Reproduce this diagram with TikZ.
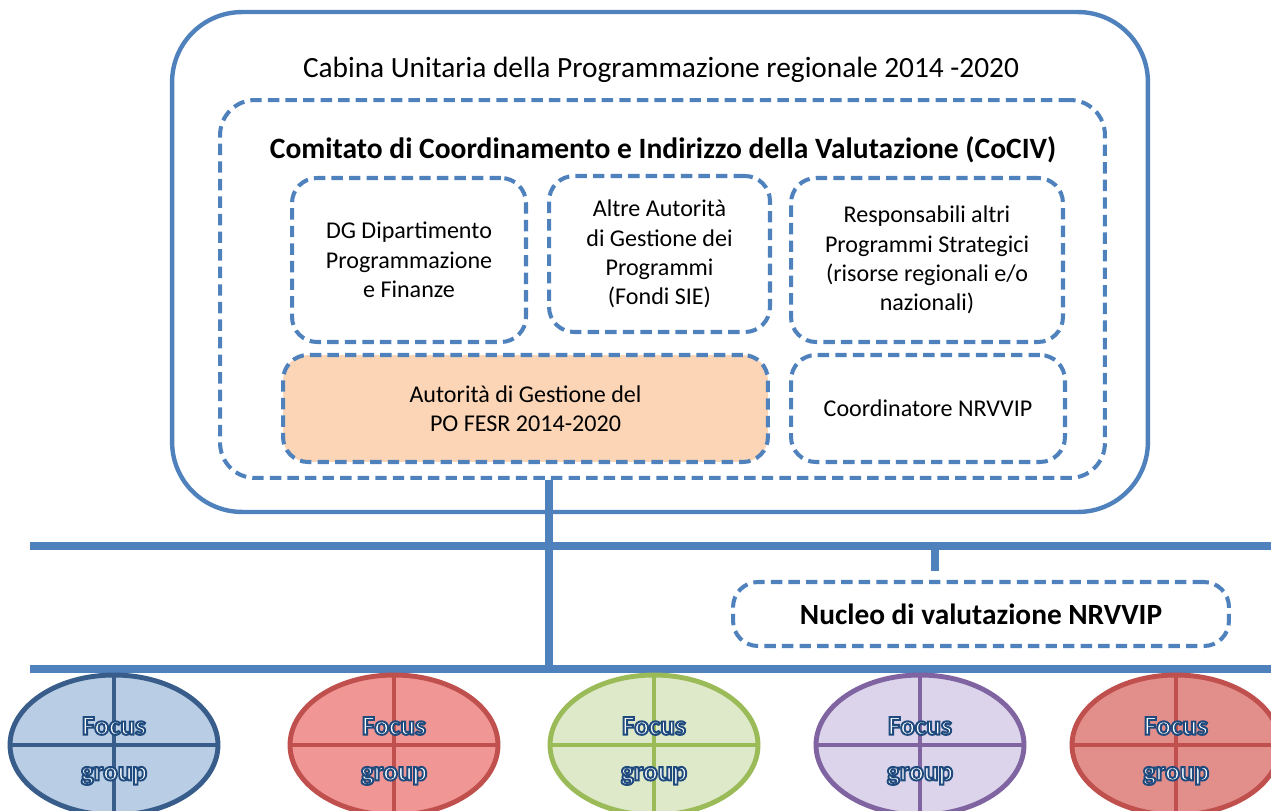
\documentclass[tikz,border=0pt]{standalone}
\usepackage{fontspec}
\setmainfont{Carlito}
\usetikzlibrary{shapes.geometric}
\newcommand\outlinedtext[1]{\special{pdf:literal direct 0.12 0.29 0.49 RG 1.1 w 2 Tr}#1\special{pdf:literal direct 0 Tr}}
\begin{document}
\begin{tikzpicture}[x=0.02cm,y=-0.02cm,
  dashbox/.style={draw=lineblue,line width=2.3pt,dash pattern=on 6.5pt off 3.5pt,rounded corners=0.5cm,inner sep=0pt,align=center,font=\fontsize{13.7}{16.7}\selectfont},
  bus/.style={draw=lineblue,line width=4pt},
  focus/.style={ellipse,line width=2.8pt,minimum width=4.16cm,minimum height=2.8cm,inner sep=0pt},
  focustext/.style={text=white,align=center,font=\bfseries\fontsize{15.5}{26}\selectfont}]
\definecolor{lineblue}{RGB}{79,129,189}
\definecolor{agfill}{RGB}{251,213,181}
\definecolor{fgblue}{RGB}{56,93,138}
\definecolor{fgbluefill}{RGB}{185,205,229}
\definecolor{fgred}{RGB}{192,80,77}
\definecolor{fgredfill}{RGB}{240,150,148}
\definecolor{fgredfillb}{RGB}{226,142,138}
\definecolor{fggreen}{RGB}{155,187,89}
\definecolor{fggreenfill}{RGB}{222,233,202}
\definecolor{fgpurple}{RGB}{128,100,162}
\definecolor{fgpurplefill}{RGB}{220,212,234}
\clip (0,0) rectangle (1271,811);
\useasboundingbox (0,0) rectangle (1271,811);
\node[draw=lineblue,line width=2.5pt,rounded corners=1.4cm,minimum width=19.52cm,minimum height=10cm] (cabina) at (660,262) {};
\node (cabinatitle) at (661,70) [font=\fontsize{16.7}{19}\selectfont]{Cabina Unitaria della Programmazione regionale 2014 -2020};
\node[dashbox,rounded corners=0.7cm,minimum width=17.7cm,minimum height=7.56cm] (cociv) at (662.5,289) {};
\node (coctitle) at (663,150) [font=\bfseries\fontsize{16.8}{19}\selectfont]{Comitato di Coordinamento e Indirizzo della Valutazione (CoCIV)};
\node[dashbox,minimum width=4.68cm,minimum height=3.28cm] (dg) at (409,260) {DG Dipartimento\\Programmazione\\e Finanze};
\node[dashbox,minimum width=4.42cm,minimum height=3.12cm] (altre) at (659.5,254) {Altre Autorità\\di Gestione dei\\Programmi\\(Fondi SIE)};
\node[dashbox,minimum width=5.44cm,minimum height=3.28cm] (resp) at (927,260) {Responsabili altri\\Programmi Strategici\\(risorse regionali e/o\\nazionali)};
\node[dashbox,fill=agfill,minimum width=9.7cm,minimum height=2.14cm] (adg) at (525.5,408.5) {Autorità di Gestione del\\PO FESR 2014-2020};
\node[dashbox,minimum width=5.48cm,minimum height=2.14cm] (coord) at (928,408.5) {Coordinatore NRVVIP};
\node[dashbox,minimum width=9.92cm,minimum height=1.28cm,font=\bfseries\fontsize{16.7}{19}\selectfont] (nucleo) at (981,614) {Nucleo di valutazione NRVVIP};
\coordinate (busAL) at (30,546);
\coordinate (busAR) at (1275,546);
\coordinate (busBL) at (30,669);
\coordinate (busBR) at (1275,669);
\coordinate (drop) at (549,669);
\coordinate (tap) at (935,546);
\draw[bus] (busAL) -- (busAR);
\draw[bus] (busBL) -- (busBR);
\draw[bus] (cociv.south -| drop) -- (drop);
\draw[bus,shorten >=9*0.02cm] (tap) -- (tap |- nucleo.north);
\foreach \i/\cx/\st/\fl in {1/114/fgblue/fgbluefill,2/394/fgred/fgredfill,3/654/fggreen/fggreenfill,4/920/fgpurple/fgpurplefill,5/1176/fgred/fgredfillb}{
  \node[focus,draw=\st,fill=\fl] (fg\i) at (\cx,745) {};
  \draw[\st,line width=2.8pt] (fg\i.north) -- (fg\i.south) (fg\i.west) -- (fg\i.east);
  \node[focustext] (fgt\i) at (\cx,751) {\outlinedtext{Focus}\\\outlinedtext{group}};
}
\end{tikzpicture}
\end{document}
